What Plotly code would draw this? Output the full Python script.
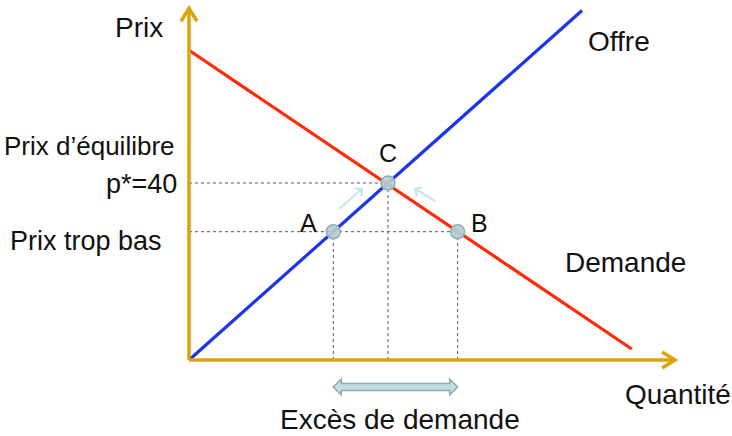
import plotly.graph_objects as go

# ---------------- data ----------------
supply_q = [0, 79]
supply_p = [0, 79]
demand_q = [0, 89]
demand_p = [70, 2.5]

q_eq, p_eq = 40, 40          # point C
p_low = 29                   # prix trop bas
q_A, q_B = 29, 54            # points A and B

point_labels = ["A", "C", "B"]
point_q = [q_A, q_eq, q_B]
point_p = [p_low, p_eq, p_low]

q_axis_max = 97.7
p_axis_max = 79.5

# ---------------- layout / scale ----------------
W, H = 732, 436
x_range = [-37.99, 109.15]
y_range = [-17.17, 81.36]
sx = W / (x_range[1] - x_range[0])   # px per quantity unit
sy = H / (y_range[1] - y_range[0])   # px per price unit

GOLD = "#DBA40E"
BLUE = "#1A35F0"
RED = "#FF2A0A"
DASH = "#555555"
FONT = "Liberation Sans, Arial, sans-serif"

fig = go.Figure()

# dashed guide lines
guides = [
    ([0, q_eq], [p_eq, p_eq]),
    ([0, q_B], [p_low, p_low]),
    ([q_A, q_A], [0, p_low]),
    ([q_eq, q_eq], [0, p_eq]),
    ([q_B, q_B], [0, p_low]),
]
for gx, gy in guides:
    fig.add_trace(go.Scatter(x=gx, y=gy, mode="lines",
                             line=dict(color=DASH, width=1, dash="3px,3px"),
                             hoverinfo="skip", showlegend=False))

# supply & demand
fig.add_trace(go.Scatter(x=supply_q, y=supply_p, mode="lines",
                         line=dict(color=BLUE, width=3.2), showlegend=False))
fig.add_trace(go.Scatter(x=demand_q, y=demand_p, mode="lines",
                         line=dict(color=RED, width=3.2), showlegend=False))

# points
fig.add_trace(go.Scatter(x=point_q, y=point_p, mode="markers",
                         marker=dict(size=14, color="rgba(178,206,210,0.92)",
                                     line=dict(color="#8FB0B5", width=1.5)),
                         showlegend=False))

# axes (gold) with open chevron arrowheads
fig.add_shape(type="line", x0=0, y0=0, x1=q_axis_max, y1=0,
              line=dict(color=GOLD, width=3.5))
fig.add_shape(type="line", x0=0, y0=0, x1=0, y1=p_axis_max,
              line=dict(color=GOLD, width=3.5))
arm_len, arm_half = 13, 8
fig.add_trace(go.Scatter(
    x=[q_axis_max - arm_len / sx, q_axis_max, q_axis_max - arm_len / sx],
    y=[arm_half / sy, 0, -arm_half / sy], mode="lines",
    line=dict(color=GOLD, width=3.5), showlegend=False))
fig.add_trace(go.Scatter(
    x=[-arm_half / sx, 0, arm_half / sx],
    y=[p_axis_max - arm_len / sy, p_axis_max, p_axis_max - arm_len / sy],
    mode="lines", line=dict(color=GOLD, width=3.5), showlegend=False))

# double arrow "excès de demande"
pc = -27 / sy
bh, hh, hl = 3.5 / sy, 8 / sy, 8 / sx
path_pts = [
    (q_A, pc), (q_A + hl, pc + hh), (q_A + hl, pc + bh), (q_B - hl, pc + bh),
    (q_B - hl, pc + hh), (q_B, pc), (q_B - hl, pc - hh), (q_B - hl, pc - bh),
    (q_A + hl, pc - bh), (q_A + hl, pc - hh),
]
path = "M " + " L ".join(f"{a},{b}" for a, b in path_pts) + " Z"
fig.add_shape(type="path", path=path, fillcolor="#C4DFE3",
              line=dict(color="#8FAAAE", width=1.5))

# small light arrows pointing towards C
arrow_col = "#C6E4EA"
fig.add_annotation(x=q_eq - 5, y=p_eq - 1.1, ax=q_A + 0.9, ay=p_low + 4.9,
                   xref="x", yref="y", axref="x", ayref="y", text="",
                   showarrow=True, arrowhead=4, arrowsize=1, arrowwidth=2,
                   arrowcolor=arrow_col)
fig.add_annotation(x=q_eq + 5.2, y=p_eq - 1.1, ax=q_B - 4.2, ay=p_low + 6.7,
                   xref="x", yref="y", axref="x", ayref="y", text="",
                   showarrow=True, arrowhead=4, arrowsize=1, arrowwidth=2,
                   arrowcolor=arrow_col)

# texts (paper coords, pixel based)
def txt(t, x, y, xanchor="left", size=28):
    fig.add_annotation(text=t, x=x / W, y=1 - y / H, xref="paper", yref="paper",
                       xanchor=xanchor, yanchor="middle", showarrow=False,
                       font=dict(family=FONT, size=size, color="#111111"))

txt("Prix", 113, 27)
txt("Offre", 586, 42)
txt("Demande", 563, 262)
txt("Quantité", 623, 394)
txt("Excès de demande", 400, 419, xanchor="center")
txt("Prix d’équilibre", 177, 146, xanchor="right", size=26)
txt("p*=40", 179, 184, xanchor="right", size=27)
txt("Prix trop bas", 8, 241, size=27)
txt("C", 388, 153, xanchor="center", size=25)
txt("A", 308, 223, xanchor="center", size=25)
txt("B", 480, 223, xanchor="center", size=25)

fig.update_layout(
    width=W, height=H, margin=dict(l=0, r=0, t=0, b=0),
    paper_bgcolor="white", plot_bgcolor="white",
    xaxis=dict(range=x_range, visible=False, fixedrange=True),
    yaxis=dict(range=y_range, visible=False, fixedrange=True),
    showlegend=False,
)

fig.write_html("out.html", config={"displayModeBar": False},
               post_script="document.body.style.margin='0';document.body.style.overflow='hidden';")
